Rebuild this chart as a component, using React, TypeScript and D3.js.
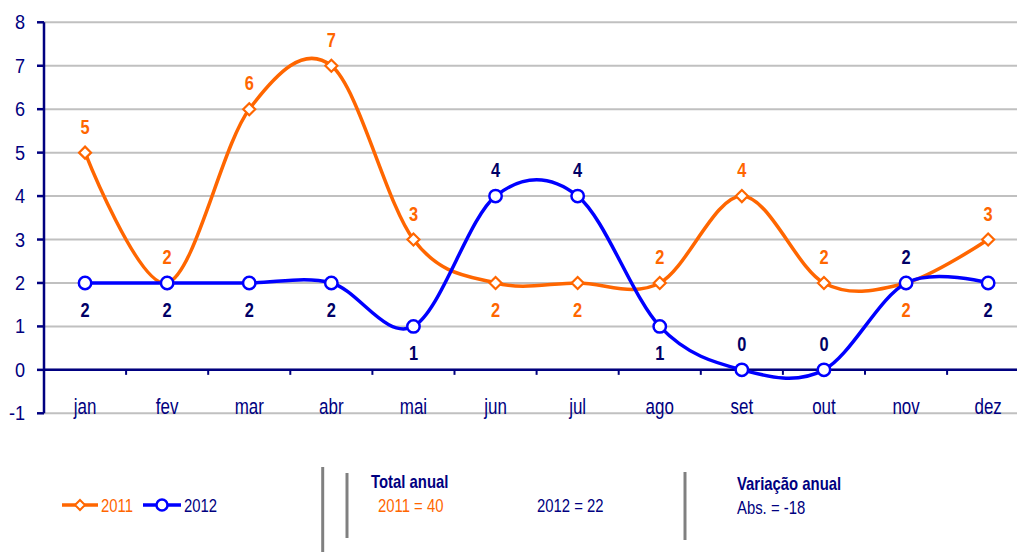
import React from "react";
import * as d3 from "d3";

const months = ["jan", "fev", "mar", "abr", "mai", "jun", "jul", "ago", "set", "out", "nov", "dez"];
const values2011 = [5, 2, 6, 7, 3, 2, 2, 2, 4, 2, 2, 3];
const values2012 = [2, 2, 2, 2, 1, 4, 4, 1, 0, 0, 2, 2];
// label placement: 1 = above point, -1 = below point
const labelPos2011 = [1, 1, 1, 1, 1, -1, -1, 1, 1, 1, -1, 1];
const labelPos2012 = [-1, -1, -1, -1, -1, 1, 1, -1, 1, 1, 1, -1];
const yTicks = [-1, 0, 1, 2, 3, 4, 5, 6, 7, 8];
const seriesNames = ["2011", "2012"];
const totals = [40, 22];
const variationAbs = -18;

const W = 1017;
const H = 552;
const ORANGE = "#FF6600";
const BLUE = "#0000FF";
const NAVY = "#000080";
const DARKNAVY = "#000066";
const GRID = "#C0C0C0";
const SEP = "#808080";
const FONT = "'Liberation Sans', Arial, sans-serif";

type TProps = {
  x: number;
  y: number;
  sx?: number;
  anchor?: "start" | "middle" | "end";
  size: number;
  weight?: string;
  fill: string;
  children: React.ReactNode;
};

function T({ x, y, sx = 1, anchor = "start", size, weight, fill, children }: TProps) {
  return (
    <text
      transform={`translate(${x},${y}) scale(${sx},1)`}
      textAnchor={anchor}
      fontSize={size}
      fontWeight={weight}
      fill={fill}
    >
      {children}
    </text>
  );
}

export default function App() {
  const left = 44;
  const step = 82.1;
  const x = d3.scaleBand<string>().domain(months).range([left, left + step * months.length]).padding(0);
  const y = d3.scaleLinear().domain([-1, 8]).range([413.3, 22.3]);
  const cx = (m: string) => (x(m) as number) + x.bandwidth() / 2;

  const line = d3
    .line<number>()
    .x((_, i) => cx(months[i]))
    .y((d) => y(d))
    .curve(d3.curveCardinal.tension(0));

  const diamond = (px: number, py: number, r: number) =>
    `M${px},${py - r}L${px + r},${py}L${px},${py + r}L${px - r},${py}Z`;

  const legendY = 505;
  const NS = 0.8;
  const LBL = 20.5;

  return (
    <svg
      width={W}
      height={H}
      style={{ position: "fixed", left: 0, top: 0, background: "#fff" }}
      fontFamily={FONT}
    >
      <rect x={0} y={0} width={W} height={H} fill="#fff" />
      {/* gridlines */}
      {yTicks.map((t) => (
        <line key={"g" + t} x1={left} x2={W} y1={y(t)} y2={y(t)} stroke={GRID} strokeWidth={2} />
      ))}
      {/* x axis at 0 */}
      <line x1={left} x2={W} y1={y(0)} y2={y(0)} stroke={NAVY} strokeWidth={2.5} />
      {months.map((m, i) =>
        i === 0 ? null : (
          <line key={"xt" + m} x1={x(m)} x2={x(m)} y1={y(0)} y2={y(0) + 5} stroke={NAVY} strokeWidth={2} />
        )
      )}
      {/* y axis */}
      <line x1={left} x2={left} y1={y(8)} y2={y(-1)} stroke={NAVY} strokeWidth={2.5} />
      {yTicks.map((t) => (
        <g key={"yt" + t}>
          <line x1={left - 7} x2={left} y1={y(t)} y2={y(t)} stroke={NAVY} strokeWidth={2.5} />
          <T x={25} y={y(t) + 7} anchor="end" size={19.5} sx={0.93} fill={NAVY}>
            {t}
          </T>
        </g>
      ))}
      {/* month labels */}
      {months.map((m) => (
        <T key={"ml" + m} x={cx(m)} y={413.5} anchor="middle" size={22} sx={0.77} fill={NAVY}>
          {m}
        </T>
      ))}
      {/* lines */}
      <path d={line(values2011) || ""} fill="none" stroke={ORANGE} strokeWidth={3.5} />
      <path d={line(values2012) || ""} fill="none" stroke={BLUE} strokeWidth={3.5} />
      {/* markers */}
      {values2011.map((v, i) => (
        <path
          key={"d" + i}
          d={diamond(cx(months[i]), y(v), 6)}
          fill="#fff"
          stroke={ORANGE}
          strokeWidth={2.2}
        />
      ))}
      {values2012.map((v, i) => (
        <circle key={"c" + i} cx={cx(months[i])} cy={y(v)} r={6.2} fill="#fff" stroke={BLUE} strokeWidth={2.5} />
      ))}
      {/* data labels */}
      {values2011.map((v, i) => (
        <T
          key={"l1" + i}
          x={cx(months[i])}
          y={y(v) - labelPos2011[i] * 26.5 + 7.5}
          anchor="middle"
          weight="bold"
          size={LBL}
          sx={NS}
          fill={ORANGE}
        >
          {v}
        </T>
      ))}
      {values2012.map((v, i) => (
        <T
          key={"l2" + i}
          x={cx(months[i])}
          y={y(v) - labelPos2012[i] * 26.5 + 7.5}
          anchor="middle"
          weight="bold"
          size={LBL}
          sx={NS}
          fill={DARKNAVY}
        >
          {v}
        </T>
      ))}
      {/* legend */}
      <line x1={62} x2={98} y1={legendY} y2={legendY} stroke={ORANGE} strokeWidth={3.5} />
      <path d={diamond(80, legendY, 5)} fill="#fff" stroke={ORANGE} strokeWidth={2} />
      <T x={101} y={legendY + 7} size={18.6} sx={NS} fill={ORANGE}>
        {seriesNames[0]}
      </T>
      <line x1={143} x2={181} y1={legendY} y2={legendY} stroke={BLUE} strokeWidth={3.5} />
      <circle cx={162} cy={legendY} r={5.5} fill="#fff" stroke={BLUE} strokeWidth={2.5} />
      <T x={184} y={legendY + 7} size={18.6} sx={NS} fill={NAVY}>
        {seriesNames[1]}
      </T>
      {/* separators */}
      <line x1={322.7} x2={322.7} y1={467} y2={552} stroke={SEP} strokeWidth={3} />
      <line x1={347} x2={347} y1={473} y2={538} stroke={SEP} strokeWidth={3} />
      <line x1={685} x2={685} y1={472} y2={540} stroke={SEP} strokeWidth={3} />
      {/* totals */}
      <T x={371} y={488} size={18.6} sx={NS} weight="bold" fill={NAVY}>
        Total anual
      </T>
      <T x={378} y={512} size={18.6} sx={NS} fill={ORANGE}>
        {`${seriesNames[0]} = ${totals[0]}`}
      </T>
      <T x={537} y={512} size={18.6} sx={NS} fill={NAVY}>
        {`${seriesNames[1]} = ${totals[1]}`}
      </T>
      <T x={737} y={490} size={18.6} sx={NS} weight="bold" fill={NAVY}>
        Variação anual
      </T>
      <T x={737} y={514} size={18.6} sx={NS} fill={NAVY}>
        {`Abs. =  ${variationAbs}`}
      </T>
    </svg>
  );
}
